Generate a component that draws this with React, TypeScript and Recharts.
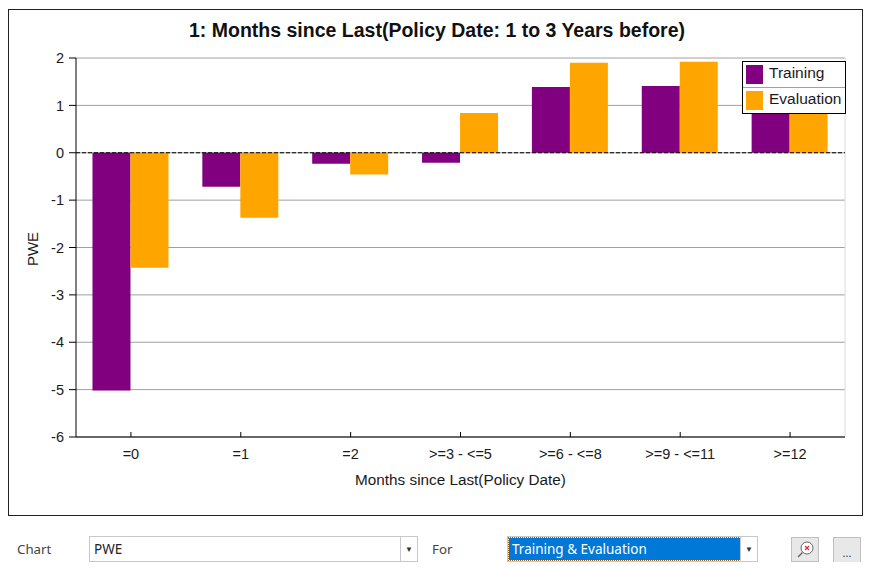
import React from "react";
import {
  BarChart,
  Bar,
  XAxis,
  YAxis,
  CartesianGrid,
  ReferenceLine,
} from "recharts";

const categories = ["=0", "=1", "=2", ">=3 - <=5", ">=6 - <=8", ">=9 - <=11", ">=12"];
const training = [-5.02, -0.72, -0.23, -0.21, 1.39, 1.41, 1.15];
const evaluation = [-2.43, -1.37, -0.46, 0.84, 1.9, 1.92, 1.25];
const yTicks = [-6, -5, -4, -3, -2, -1, 0, 1, 2];
const seriesNames = ["Training", "Evaluation"];

const data = categories.map((c, i) => ({
  name: c,
  Training: training[i],
  Evaluation: evaluation[i],
}));

const PURPLE = "#800080";
const ORANGE = "#FFA500";
const FONT = "'Liberation Sans', Arial, sans-serif";
const UI_FONT = "'Noto Sans', 'Open Sans', sans-serif";

function XTick(props: any) {
  const { x, y, payload } = props;
  return (
    <g>
      <line x1={x} y1={y - 5} x2={x} y2={y} stroke="#000" />
      <text x={x} y={y + 22} textAnchor="middle" fontSize={14.5} fill="#1a1a1a" fontFamily={FONT}>
        {payload.value}
      </text>
    </g>
  );
}

function YLabel() {
  return (
    <text
      x={38}
      y={249}
      transform="rotate(-90 38 249)"
      textAnchor="middle"
      fontSize={15}
      fill="#1a1a1a"
      fontFamily={FONT}
    >
      PWE
    </text>
  );
}

// legend drawn as a plain box so it doesn't shrink the plot area
function LegendBox() {
  const colors = [PURPLE, ORANGE];
  return (
    <div
      style={{
        position: "absolute",
        left: 742,
        top: 61,
        width: 102,
        border: "1px solid #000",
        background: "#fff",
        fontFamily: FONT,
        fontSize: 15.5,
        color: "#1a1a1a",
      }}
    >
      {seriesNames.map((s, i) => (
        <div
          key={s}
          style={{
            display: "flex",
            alignItems: "center",
            height: 25,
            borderTop: i > 0 ? "1px solid #a0a0a0" : "none",
          }}
        >
          <div style={{ width: 17, height: 19, background: colors[i], marginLeft: 3, marginRight: 6 }} />
          <span style={{ position: "relative", top: -2 }}>{s}</span>
        </div>
      ))}
    </div>
  );
}

function Combo({ left, width, text, selected }: { left: number; width: number; text: string; selected?: boolean }) {
  return (
    <div
      style={{
        position: "absolute",
        left,
        top: 536,
        width,
        height: 26,
        border: "1px solid #c8c8c8",
        background: "#fff",
        boxSizing: "border-box",
        fontFamily: UI_FONT,
        fontSize: 13.5,
      }}
    >
      <div
        style={{
          position: "absolute",
          left: 1,
          top: 1,
          right: 17,
          bottom: 1,
          background: selected ? "#0078D7" : "#fff",
          color: selected ? "#fff" : "#222",
          outline: selected ? "1px dotted #a06020" : "none",
          paddingLeft: 3,
          lineHeight: "22px",
        }}
      >
        {text}
      </div>
      <div
        style={{
          position: "absolute",
          right: 0,
          top: 0,
          width: 16,
          height: 24,
          borderLeft: "1px solid #c8c8c8",
          textAlign: "center",
          fontSize: 8,
          lineHeight: "24px",
          color: "#333",
        }}
      >
        ▼
      </div>
    </div>
  );
}

export default function App() {
  return (
    <div style={{ position: "relative", width: 871, height: 570, margin: -8, background: "#fff", overflow: "hidden" }}>
      <div
        style={{
          position: "absolute",
          left: 1,
          top: 0,
          width: 868,
          height: 568,
          border: "1px solid #a8a8a8",
          boxSizing: "border-box",
        }}
      />
      <div
        style={{
          position: "absolute",
          left: 8,
          top: 9,
          width: 855,
          height: 507,
          border: "1px solid #222",
          boxSizing: "border-box",
        }}
      />
      <div
        style={{
          position: "absolute",
          left: 0,
          top: 19,
          width: 874,
          textAlign: "center",
          fontFamily: FONT,
          fontWeight: "bold",
          fontSize: 19.5,
          color: "#111",
        }}
      >
        1: Months since Last(Policy Date: 1 to 3 Years before)
      </div>
      <div style={{ position: "absolute", left: 0, top: 0 }}>
        <BarChart
          width={871}
          height={520}
          data={data}
          margin={{ top: 58, right: 26, left: 16, bottom: 33 }}
          barCategoryGap="15%"
          barGap={0}
        >
          <CartesianGrid vertical={false} stroke="#a0a0a0" />
          <CartesianGrid horizontal={false} verticalPoints={[845]} stroke="#dcdcdc" />
          <XAxis
            dataKey="name"
            height={50}
            axisLine={{ stroke: "#000" }}
            tickLine={false}
            tickSize={0}
            tickMargin={0}
            interval={0}
            tick={<XTick />}
            label={{
              value: "Months since Last(Policy Date)",
              position: "insideBottom",
              offset: 2,
              fontSize: 15.3,
              fill: "#1a1a1a",
              fontFamily: FONT,
            }}
          />
          <YAxis
            width={60}
            domain={[-6, 2]}
            ticks={yTicks}
            interval={0}
            axisLine={{ stroke: "#000" }}
            tickLine={{ stroke: "#000" }}
            tickSize={7}
            tickMargin={5}
            tick={{ fontSize: 14.5, fill: "#1a1a1a", fontFamily: FONT }}
            label={<YLabel />}
          />
          <Bar dataKey="Training" fill={PURPLE} isAnimationActive={false} />
          <Bar dataKey="Evaluation" fill={ORANGE} isAnimationActive={false} />
          <ReferenceLine y={0} stroke="#000" strokeDasharray="4 2" />
        </BarChart>
      </div>
      <LegendBox />

      <div style={{ position: "absolute", left: 17, top: 540, fontFamily: UI_FONT, fontSize: 13.3, color: "#444" }}>
        Chart
      </div>
      <Combo left={89} width={329} text="PWE" />
      <div style={{ position: "absolute", left: 432, top: 540, fontFamily: UI_FONT, fontSize: 13.3, color: "#444" }}>
        For
      </div>
      <Combo left={507} width={251} text="Training & Evaluation" selected />
      <div
        style={{
          position: "absolute",
          left: 791,
          top: 537,
          width: 28,
          height: 25,
          border: "1px solid #c0c0c0",
          background: "#e8e8e8",
          boxSizing: "border-box",
        }}
      >
        <svg width={26} height={23}>
          <circle cx={15} cy={10} r={6} fill="#fff" stroke="#666" />
          <line x1={10.5} y1={14.5} x2={6} y2={19} stroke="#666" strokeWidth={1.5} />
          <line x1={13} y1={8} x2={17} y2={12} stroke="#e03030" strokeWidth={1.3} />
          <line x1={17} y1={8} x2={13} y2={12} stroke="#e03030" strokeWidth={1.3} />
        </svg>
      </div>
      <div
        style={{
          position: "absolute",
          left: 833,
          top: 537,
          width: 28,
          height: 26,
          border: "1px solid #c0c0c0",
          background: "#e8e8e8",
          boxSizing: "border-box",
          textAlign: "center",
          fontFamily: UI_FONT,
          fontSize: 11,
          lineHeight: "30px",
          color: "#333",
        }}
      >
        ...
      </div>
    </div>
  );
}
